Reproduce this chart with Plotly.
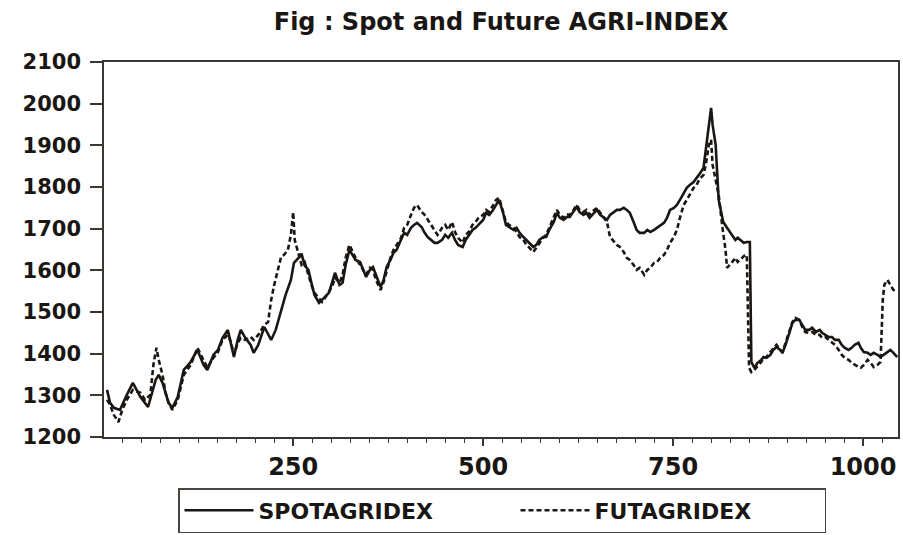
import plotly.graph_objects as go

# Observation index and index level for the spot series
spot_day = [5, 9, 14, 22, 31, 39, 49, 59, 69, 73, 78, 86, 91, 98, 106, 115, 124, 132, 137, 145,
            151, 157, 164, 168, 172, 177, 181, 187, 194, 198, 204, 212, 217, 221, 227, 234, 240, 247, 251, 257,
            261, 265, 270, 274, 278, 284, 288, 292, 297, 301, 305, 311, 315, 319, 324, 328, 332, 338, 346, 351,
            355, 359, 365, 369, 373, 378, 382, 386, 392, 396, 400, 405, 409, 413, 419, 423, 427, 432, 436, 440,
            446, 450, 454, 459, 463, 467, 473, 477, 481, 486, 490, 494, 500, 504, 508, 513, 517, 521, 526, 530,
            534, 540, 544, 548, 553, 557, 561, 566, 570, 574, 579, 583, 587, 593, 597, 601, 606, 610, 614, 619,
            623, 627, 632, 636, 640, 646, 650, 654, 659, 663, 667, 672, 676, 680, 685, 689, 693, 698, 702, 706,
            712, 716, 720, 725, 729, 733, 738, 742, 746, 751, 755, 759, 764, 768, 772, 777, 781, 784, 790, 793,
            796, 800, 802, 806, 810, 813, 816, 821, 828, 832, 835, 841, 843, 847, 851, 853, 857, 861, 866, 869,
            873, 878, 882, 886, 891, 894, 898, 903, 907, 911, 916, 920, 924, 929, 933, 938, 943, 946, 950, 955,
            959, 963, 968, 972, 976, 981, 985, 989, 994, 997, 1001, 1006, 1010, 1014, 1019, 1023, 1027, 1032, 1036, 1040,
            1045]
spot_val = [1313, 1282, 1270, 1265, 1301, 1330, 1296, 1272, 1337, 1349, 1330, 1282, 1270, 1296, 1361, 1380, 1409, 1373, 1361, 1397,
            1409, 1438, 1457, 1421, 1392, 1433, 1457, 1438, 1421, 1402, 1421, 1464, 1445, 1433, 1457, 1505, 1541, 1577, 1618, 1630,
            1640, 1612, 1601, 1570, 1541, 1522, 1529, 1536, 1546, 1570, 1594, 1565, 1570, 1613, 1649, 1637, 1625, 1620, 1584, 1601,
            1608, 1589, 1560, 1577, 1608, 1625, 1642, 1649, 1673, 1690, 1685, 1702, 1709, 1714, 1704, 1690, 1680, 1673, 1666, 1666,
            1673, 1685, 1678, 1690, 1673, 1661, 1656, 1673, 1685, 1697, 1702, 1709, 1721, 1738, 1733, 1745, 1757, 1769, 1740, 1709,
            1704, 1697, 1702, 1690, 1680, 1673, 1666, 1656, 1661, 1673, 1680, 1680, 1697, 1716, 1738, 1726, 1721, 1728, 1728, 1740,
            1752, 1740, 1733, 1738, 1726, 1738, 1745, 1733, 1726, 1721, 1733, 1740, 1745, 1745, 1750, 1745, 1738, 1716, 1697, 1690,
            1690, 1697, 1692, 1697, 1702, 1709, 1714, 1726, 1745, 1750, 1757, 1769, 1786, 1798, 1805, 1812, 1822, 1829, 1846, 1889,
            1942, 1990, 1949, 1901, 1769, 1745, 1716, 1702, 1685, 1673, 1678, 1668, 1666, 1668, 1668, 1380, 1366, 1378, 1385, 1392,
            1390, 1397, 1409, 1416, 1409, 1402, 1421, 1450, 1474, 1481, 1481, 1469, 1457, 1457, 1462, 1452, 1457, 1450, 1445, 1440,
            1440, 1433, 1433, 1421, 1414, 1409, 1414, 1421, 1426, 1414, 1404, 1402, 1397, 1402, 1397, 1392, 1397, 1404, 1409, 1402,
            1392]

# Observation index and index level for the futures series
fut_day = [5, 9, 14, 20, 25, 31, 39, 49, 55, 62, 66, 70, 73, 78, 82, 86, 91, 98, 106, 115,
           124, 132, 137, 145, 151, 157, 164, 168, 172, 177, 181, 187, 194, 198, 204, 208, 212, 217, 221, 225,
           230, 234, 238, 243, 247, 250, 252, 257, 261, 265, 270, 274, 278, 284, 288, 292, 297, 301, 305, 311,
           315, 319, 324, 328, 332, 338, 346, 351, 355, 359, 365, 369, 373, 378, 382, 386, 392, 396, 400, 405,
           409, 413, 419, 423, 427, 432, 436, 440, 446, 450, 454, 459, 463, 467, 473, 477, 481, 486, 490, 494,
           500, 504, 508, 513, 517, 521, 526, 530, 534, 540, 544, 548, 553, 557, 561, 566, 570, 574, 579, 583,
           587, 593, 597, 601, 606, 610, 614, 619, 623, 627, 632, 636, 640, 646, 650, 654, 659, 663, 667, 672,
           676, 680, 685, 689, 693, 698, 702, 706, 712, 716, 720, 725, 729, 733, 738, 742, 746, 751, 755, 759,
           764, 768, 772, 777, 781, 784, 790, 793, 797, 800, 802, 806, 810, 815, 819, 821, 825, 828, 832, 835,
           841, 843, 847, 850, 853, 857, 861, 866, 869, 873, 878, 882, 886, 891, 894, 898, 903, 907, 911, 916,
           920, 924, 929, 933, 938, 943, 946, 950, 955, 959, 963, 968, 972, 976, 981, 985, 989, 994, 997, 1001,
           1006, 1010, 1014, 1019, 1023, 1026, 1028, 1032, 1036, 1040, 1045]
fut_val = [1289, 1277, 1253, 1236, 1265, 1289, 1313, 1306, 1289, 1301, 1373, 1414, 1385, 1349, 1306, 1282, 1265, 1289, 1349, 1373,
           1414, 1385, 1366, 1390, 1404, 1433, 1445, 1428, 1397, 1426, 1438, 1433, 1440, 1433, 1445, 1457, 1469, 1476, 1529, 1565,
           1601, 1632, 1637, 1649, 1685, 1740, 1673, 1637, 1613, 1620, 1589, 1565, 1546, 1534, 1524, 1534, 1548, 1560, 1582, 1570,
           1589, 1630, 1661, 1644, 1630, 1613, 1589, 1606, 1601, 1577, 1553, 1572, 1601, 1630, 1649, 1661, 1678, 1702, 1709, 1733,
           1750, 1757, 1740, 1733, 1721, 1709, 1697, 1685, 1702, 1709, 1697, 1716, 1692, 1678, 1666, 1685, 1692, 1709, 1716, 1726,
           1733, 1745, 1740, 1757, 1769, 1774, 1745, 1716, 1709, 1702, 1692, 1680, 1673, 1661, 1654, 1644, 1654, 1666, 1678, 1685,
           1702, 1726, 1745, 1733, 1726, 1735, 1733, 1745, 1757, 1745, 1740, 1745, 1733, 1745, 1750, 1738, 1726, 1716, 1680, 1668,
           1661, 1656, 1644, 1630, 1625, 1613, 1601, 1606, 1589, 1601, 1606, 1618, 1620, 1630, 1637, 1649, 1666, 1680, 1697, 1726,
           1757, 1769, 1781, 1798, 1805, 1817, 1829, 1853, 1901, 1913, 1853, 1817, 1781, 1702, 1649, 1606, 1613, 1620, 1630, 1620,
           1630, 1634, 1637, 1366, 1356, 1361, 1370, 1380, 1390, 1392, 1404, 1414, 1421, 1409, 1404, 1426, 1457, 1476, 1486, 1481,
           1464, 1452, 1450, 1452, 1445, 1445, 1438, 1440, 1433, 1428, 1421, 1409, 1397, 1390, 1385, 1378, 1373, 1368, 1366, 1373,
           1385, 1378, 1368, 1373, 1380, 1529, 1565, 1577, 1565, 1553, 1548]

x_ticks = [250, 500, 750, 1000]
series_names = ["SPOTAGRIDEX", "FUTAGRIDEX"]
title_text = "Fig : Spot and Future AGRI-INDEX"

ink = "#1a1613"
axis_col = "#3b3632"
font_family = "DejaVu Sans"

fig = go.Figure()
fig.add_trace(go.Scatter(x=spot_day, y=spot_val, mode="lines", name=series_names[0],
                         legendwidth=252,
                         line=dict(color=ink, width=2.6)))
fig.add_trace(go.Scatter(x=fut_day, y=fut_val, mode="lines", name=series_names[1],
                         legendwidth=225,
                         line=dict(color=ink, width=2.6, dash="5px,3px")))

fig.update_layout(
    width=903, height=535,
    margin=dict(l=104, r=5, t=62, b=98, autoexpand=False),
    paper_bgcolor="white", plot_bgcolor="white",
    font=dict(family=font_family, color=ink, weight="bold"),
    title=dict(text=title_text, x=0.5, xref="paper", xanchor="center",
               y=1 - 22 / 535, yanchor="middle",
               font=dict(size=24, family=font_family, weight="bold", color=ink)),
    showlegend=True,
    legend=dict(orientation="h", x=(178 - 104) / 794, xanchor="left", y=-0.136, yanchor="top",
                bordercolor="#4a4440", borderwidth=1.5, bgcolor="white",
                itemwidth=69, tracegroupgap=0,
                font=dict(size=22, family=font_family, weight="bold", color=ink)),
)

fig.update_xaxes(
    range=[1, 1046], tickmode="array", tickvals=x_ticks,
    ticks="outside", ticklen=7, tickwidth=1.5, tickcolor=axis_col,
    minor=dict(tick0=0, dtick=25, ticks="outside", ticklen=4, tickwidth=1.2, tickcolor=axis_col),
    showline=True, linecolor=axis_col, linewidth=1.5, mirror=True,
    showgrid=False, zeroline=False,
    tickfont=dict(size=24, family=font_family, weight="bold", color=ink),
)
fig.update_yaxes(
    range=[1200, 2100], dtick=100, tick0=1200,
    ticks="outside", ticklen=12, tickwidth=1.5, tickcolor=axis_col,
    ticklabelstandoff=5,
    showline=True, linecolor=axis_col, linewidth=1.5, mirror=True,
    showgrid=False, zeroline=False,
    tickfont=dict(size=21, family=font_family, weight="bold", color=ink),
)

fig.write_html("out.html")
